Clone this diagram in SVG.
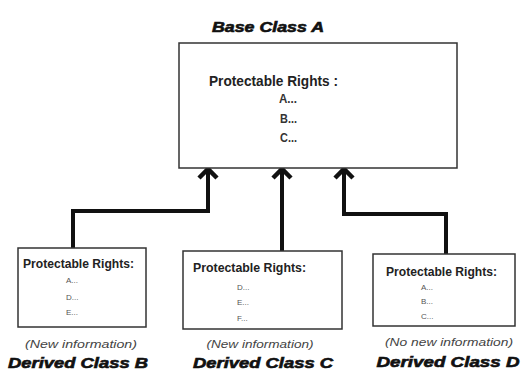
<svg xmlns="http://www.w3.org/2000/svg" width="523" height="373" viewBox="0 0 523 373">
  <style>
    .box { fill: #ffffff; stroke: #333333; stroke-width: 1.5; }
    .wire { fill: none; stroke: #111111; stroke-width: 4; stroke-linejoin: miter; }
    .head { fill: none; stroke: #111111; stroke-width: 4.5; stroke-linejoin: miter; stroke-linecap: butt; }
    .title { font-family: "Liberation Sans", Arial, sans-serif; font-weight: bold; font-style: italic; font-size: 14px; fill: #111111; stroke: #111111; stroke-width: 0.6; text-anchor: middle; }
    .heading { font-family: "Liberation Sans Narrow", "Liberation Sans", Arial, sans-serif; font-weight: bold; fill: #222222; }
    .item { font-family: "Liberation Sans Narrow", "Liberation Sans", Arial, sans-serif; font-weight: bold; fill: #333333; }
    .small { font-family: "Liberation Sans", Arial, sans-serif; font-size: 8px; fill: #555555; }
    .note { font-family: "Liberation Sans", Arial, sans-serif; font-style: italic; font-size: 10px; fill: #444444; text-anchor: middle; }
  </style>
  <rect width="523" height="373" fill="#ffffff"/>

  <!-- inheritance links to the base class -->
  <g id="connectors">
    <polyline class="wire" points="73,248 73,211 208,211 208,170"/>
    <polyline class="wire" points="282,251 282,170"/>
    <polyline class="wire" points="446,254 446,214 344,214 344,170"/>
    <polyline class="head" points="199,178 208,169 217,178"/>
    <polyline class="head" points="273,178 282,169 291,178"/>
    <polyline class="head" points="335,178 344,169 353,178"/>
  </g>

  <g id="base-class-a">
    <text class="title" x="268" y="32" textLength="112" lengthAdjust="spacingAndGlyphs">Base Class A</text>
    <rect class="box" x="179" y="43" width="278" height="125"/>
    <text class="heading" x="209" y="86" font-size="15" textLength="129" lengthAdjust="spacingAndGlyphs">Protectable Rights :</text>
    <text class="item" x="279" y="103" font-size="13" textLength="18" lengthAdjust="spacingAndGlyphs">A...</text>
    <text class="item" x="280" y="123" font-size="13" textLength="17" lengthAdjust="spacingAndGlyphs">B...</text>
    <text class="item" x="280" y="142" font-size="13" textLength="17" lengthAdjust="spacingAndGlyphs">C...</text>
  </g>

  <g id="derived-class-b">
    <rect class="box" x="18" y="248" width="128" height="79"/>
    <text class="heading" x="23" y="268" font-size="12.5" textLength="111" lengthAdjust="spacingAndGlyphs">Protectable Rights:</text>
    <text class="small" x="66" y="283">A...</text>
    <text class="small" x="66" y="300">D...</text>
    <text class="small" x="66" y="315">E...</text>
    <text class="note" x="81" y="348" textLength="112" lengthAdjust="spacingAndGlyphs">(New information)</text>
    <text class="title" x="78" y="368" textLength="140" lengthAdjust="spacingAndGlyphs">Derived Class B</text>
  </g>

  <g id="derived-class-c">
    <rect class="box" x="183" y="251" width="159" height="78"/>
    <text class="heading" x="193" y="272" font-size="12.5" textLength="113" lengthAdjust="spacingAndGlyphs">Protectable Rights:</text>
    <text class="small" x="237" y="290">D...</text>
    <text class="small" x="237" y="305">E...</text>
    <text class="small" x="237" y="321">F...</text>
    <text class="note" x="260" y="348" textLength="107" lengthAdjust="spacingAndGlyphs">(New information)</text>
    <text class="title" x="263" y="368" textLength="140" lengthAdjust="spacingAndGlyphs">Derived Class C</text>
  </g>

  <g id="derived-class-d">
    <rect class="box" x="373" y="254" width="142" height="72"/>
    <text class="heading" x="386" y="276" font-size="12.5" textLength="111" lengthAdjust="spacingAndGlyphs">Protectable Rights:</text>
    <text class="small" x="421" y="290">A...</text>
    <text class="small" x="421" y="304">B...</text>
    <text class="small" x="421" y="319">C...</text>
    <text class="note" x="449" y="346" textLength="128" lengthAdjust="spacingAndGlyphs">(No new information)</text>
    <text class="title" x="448" y="367" textLength="143" lengthAdjust="spacingAndGlyphs">Derived Class D</text>
  </g>
</svg>
